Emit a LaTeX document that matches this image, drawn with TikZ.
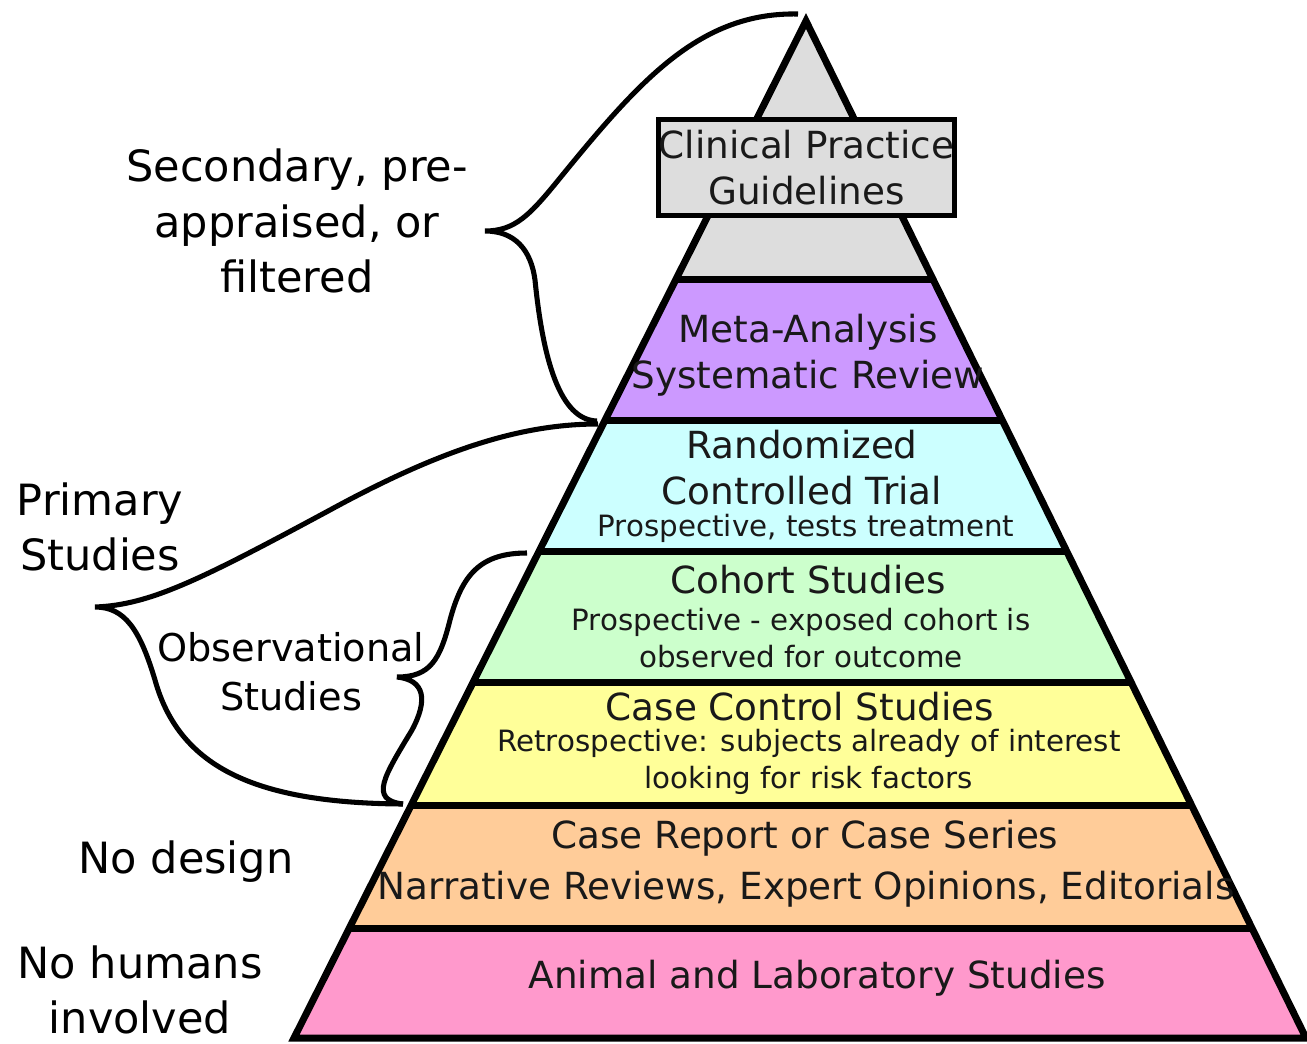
\documentclass[tikz,border=0pt]{standalone}
\usepackage{fontspec}
\setmainfont{DejaVu Sans}
\usepackage{tikz}

\definecolor{guidegray}{HTML}{DDDDDD}
\definecolor{metapurple}{HTML}{CC99FF}
\definecolor{rctcyan}{HTML}{CCFFFF}
\definecolor{cohortgreen}{HTML}{CCFFCC}
\definecolor{caseyellow}{HTML}{FFFF99}
\definecolor{reportorange}{HTML}{FFCC99}
\definecolor{animalpink}{HTML}{FF99CC}

\begin{document}
\begin{tikzpicture}
  [
  x=0.75pt, y=-0.75pt, line width=5.25pt,
  layertitle/.style={font=\fontsize{28}{34.5}\selectfont, align=center, inner sep=0pt, text=black!90},
  layersub/.style={font=\fontsize{22}{27.5}\selectfont, align=center, inner sep=0pt, text=black!90},
  sidelabel/.style={font=\fontsize{32.3}{41.5}\selectfont, align=center, inner sep=0pt},
  guidebox/.style={layertitle, draw, line width=3.75pt, fill=guidegray, minimum width=219pt, minimum height=72pt},
  brace/.style={line width=3.8pt}
  ]

\useasboundingbox (0,0) rectangle (1307,1043);

\coordinate (apex) at (806,21);
\coordinate (left) at (294,1038);
\coordinate (right) at (1306,1038);

% layers of the pyramid
\begin{scope}
  \clip (apex) -- (left) -- (right) -- cycle;
  \foreach \ytop/\ybot/\col in {0/279/guidegray, 279/420/metapurple, 420/551/rctcyan,
      551/682/cohortgreen, 682/805/caseyellow, 805/928/reportorange, 928/1043/animalpink} {
    \fill[\col] (0,\ytop) rectangle (1307,\ybot);
  }
  \foreach \y in {279,420,551,682,805,928} {
    \draw (0,\y) -- (1307,\y);
  }
\end{scope}
\draw (apex) -- (left) -- (right) -- cycle;

\node[guidebox] (cpg) at (806.5,167.5) {Clinical Practice\\Guidelines};
\node[layertitle] (meta) at (808,355) {Meta-Analysis\\Systematic Review};
\node[layertitle] (rct) at (802,468) {Randomized\\Controlled Trial};
\node[layersub] (rctsub) at (806,528) {Prospective, tests treatment};
\node[layertitle] (cohort) at (808,580) {Cohort Studies};
\node[layersub] (cohortsub) at (801,638) {Prospective - exposed cohort is\\observed for outcome};
\node[layertitle] (cc) at (800,707) {Case Control Studies};
\node[layersub] (ccsub) at (809,762) {Retrospective: subjects already of interest\\looking for risk factors};
\node[layertitle] (report) at (805,838) {Case Report or Case Series};
\node[layertitle] (narrative) at (806,889) {Narrative Reviews, Expert Opinions, Editorials};
\node[layertitle] (animal) at (817,978) {Animal and Laboratory Studies};

% labels on the left
\node[sidelabel] (secondary) at (297,221) {Secondary, pre-\\appraised, or\\filtered};
\node[sidelabel] (primary) at (100,527) {Primary\\Studies};
\node[sidelabel, font=\fontsize{28.7}{36.75}\selectfont] (observational) at (291,672) {Observational\\Studies};
\node[sidelabel] (nodesign) at (186,862) {No design};
\node[sidelabel] (nohumans) at (140,990) {No humans\\involved};

% braces
\coordinate (sec top) at (798,14);
\coordinate (sec tip) at (485,231);
\coordinate (sec bot) at (597,421);
\coordinate (prim top) at (598,424);
\coordinate (prim tip) at (95,607);
\coordinate (prim bot) at (403,804);
\coordinate (obs top) at (527,553);
\coordinate (obs tip) at (397,677);
\coordinate (obs bot) at (403,804);

\draw[brace] (sec top) .. controls (700,12) and (640,80) .. (560,178)
  .. controls (530,215) and (515,231) .. (sec tip)
  .. controls (515,231) and (531,250) .. (535,280)
  .. controls (543,360) and (560,420) .. (sec bot);
\draw[brace] (prim top) .. controls (520,424) and (440,450) .. (330,510)
  .. controls (200,580) and (150,605) .. (prim tip)
  .. controls (125,607) and (140,630) .. (155,680)
  .. controls (180,770) and (260,803) .. (prim bot);
\draw[brace] (obs top) .. controls (480,553) and (462,575) .. (450,620)
  .. controls (440,660) and (430,677) .. (obs tip)
  .. controls (425,680) and (428,700) .. (412,730)
  .. controls (385,775) and (368,800) .. (obs bot);
\end{tikzpicture}
\end{document}
